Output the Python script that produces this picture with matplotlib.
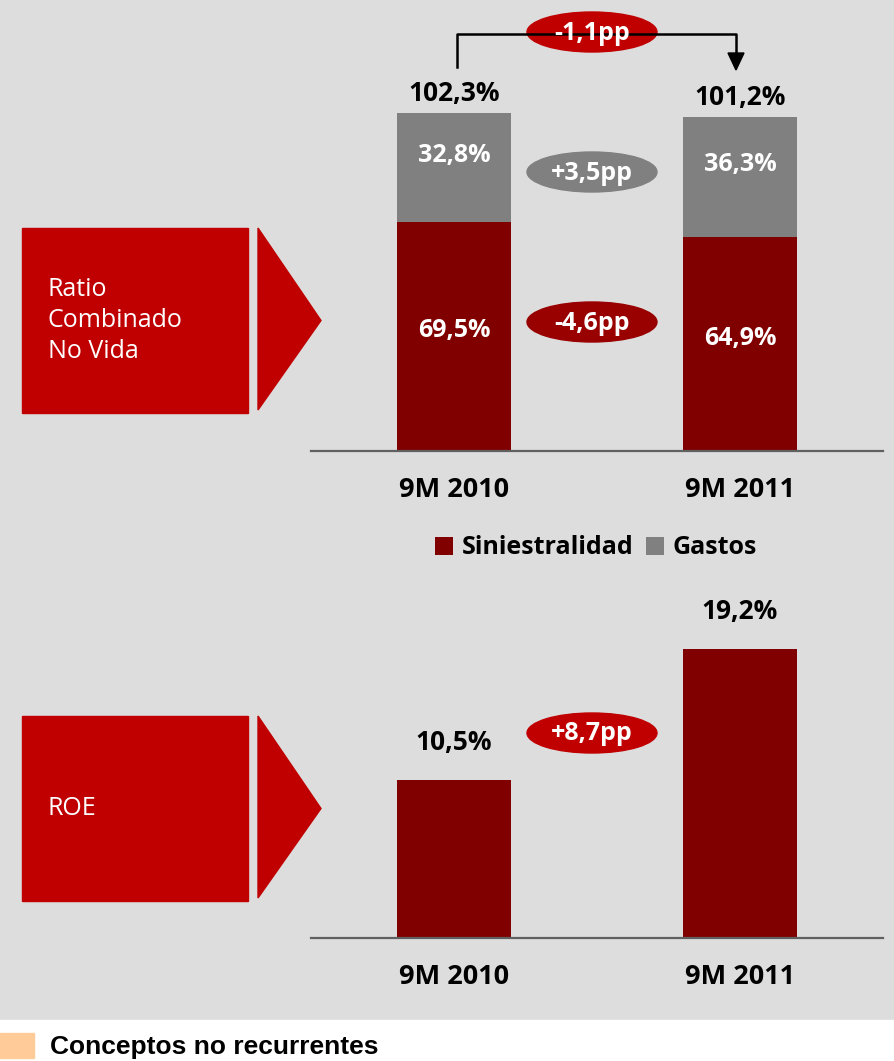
import matplotlib
matplotlib.use("Agg")
import matplotlib.pyplot as plt
from matplotlib.patches import Rectangle, Polygon, Ellipse

plt.rcParams['font.family'] = ['Open Sans', 'DejaVu Sans']

# data
periods = ["9M 2010", "9M 2011"]
siniestralidad = [69.5, 64.9]
gastos = [32.8, 36.3]
roe = [10.5, 19.2]
series_names = ["Siniestralidad", "Gastos"]
changes = ["-1,1pp", "+3,5pp", "-4,6pp", "+8,7pp"]

BG = '#dddddd'
DARK = '#800000'
GREY = '#808080'
RED = '#c00000'
W, H = 895, 1061


def fmt(v):
    return f"{v:.1f}".replace('.', ',') + '%'


def px_rect(left, top, right, bottom):
    return [left / W, 1 - bottom / H, (right - left) / W, (bottom - top) / H]


def style_axis(ax, pad):
    ax.patch.set_visible(False)
    for s in ['top', 'left', 'right']:
        ax.spines[s].set_visible(False)
    ax.spines['bottom'].set_color('#606060')
    ax.spines['bottom'].set_linewidth(1.6)
    ax.set_yticks([])
    ax.set_xlim(-0.5, 1.5)
    ax.set_xticks(range(len(periods)))
    ax.set_xticklabels(periods, fontsize=19.5, fontweight='bold')
    ax.tick_params(axis='x', length=0, pad=pad)


fig = plt.figure(figsize=(W / 100, H / 100), dpi=100, facecolor=BG)

# background layer (pixel coords)
back = fig.add_axes([0, 0, 1, 1], zorder=0)
back.set_xlim(0, W)
back.set_ylim(H, 0)
back.axis('off')

back.add_patch(Rectangle((0, 1020), W, H - 1020, color='white'))
back.add_patch(Rectangle((0, 1033), 34, 25, color='#ffcc99'))
back.text(50, 1047, "Conceptos no recurrentes", fontsize=19, fontweight='bold',
          family=['Liberation Sans', 'DejaVu Sans'], va='center', ha='left')

for top, bot, label in [(228, 413, "Ratio\nCombinado\nNo Vida"), (716, 901, "ROE")]:
    back.add_patch(Rectangle((22, top), 226, bot - top, color=RED))
    mid = (top + bot) / 2
    back.add_patch(Polygon([(258, top), (321, mid), (258, bot - 3)], closed=True, color=RED))
    back.text(48, mid, label, color='white', fontsize=18, va='center', ha='left',
              linespacing=1.3)

# top chart: combined ratio
ax1 = fig.add_axes(px_rect(311, 0, 883, 451), zorder=1)
x = list(range(len(periods)))
b1 = ax1.bar(x, siniestralidad, width=0.4, color=DARK, label=series_names[0])
b2 = ax1.bar(x, gastos, width=0.4, bottom=siniestralidad, color=GREY, label=series_names[1])
ax1.set_ylim(0, 451 / 3.3)
style_axis(ax1, 19)

for xi, s, g in zip(x, siniestralidad, gastos):
    tot = s + g
    ax1.annotate(fmt(tot), (xi, tot), xytext=(0, 14), textcoords='offset points',
                 ha='center', va='center', fontsize=19, fontweight='bold')
    ax1.annotate(fmt(g), (xi, s + g / 2), xytext=(0, 9), textcoords='offset points',
                 ha='center', va='center', fontsize=18, fontweight='bold', color='white')
    ax1.annotate(fmt(s), (xi, s / 2), xytext=(0, 4), textcoords='offset points',
                 ha='center', va='center', fontsize=18, fontweight='bold', color='white')

# bottom chart: ROE
ax2 = fig.add_axes(px_rect(311, 560, 883, 938), zorder=1)
ax2.bar(x, roe, width=0.4, color=DARK)
ax2.set_ylim(0, 378 / 15.05)
style_axis(ax2, 18.5)
for xi, v in zip(x, roe):
    ax2.annotate(fmt(v), (xi, v), xytext=(0, 27), textcoords='offset points',
                 ha='center', va='center', fontsize=19, fontweight='bold')

fig.legend([b1, b2], series_names, loc='center', bbox_to_anchor=(596 / W, 1 - 548 / H),
           ncol=2, frameon=False, prop={'size': 18, 'weight': 'bold'},
           handlelength=0.72, handleheight=0.72, handletextpad=0.36, columnspacing=0.5)

# front layer: bracket and change bubbles
front = fig.add_axes([0, 0, 1, 1], zorder=3)
front.set_xlim(0, W)
front.set_ylim(H, 0)
front.axis('off')
front.plot([457, 457, 736, 736], [67, 34, 34, 56], color='black', lw=1.8)
front.add_patch(Polygon([(728, 53), (744, 53), (736, 70)], closed=True, color='black'))

bubble_y = [32, 172, 322, 733]
bubble_col = [RED, GREY, '#990000', RED]
for txt, yc, col in zip(changes, bubble_y, bubble_col):
    front.add_patch(Ellipse((592, yc), 130, 40, color=col))
    front.text(592, yc + 1, txt, color='white', fontsize=18, fontweight='bold',
               ha='center', va='center')

fig.savefig("out.png", dpi=100, facecolor=BG)
